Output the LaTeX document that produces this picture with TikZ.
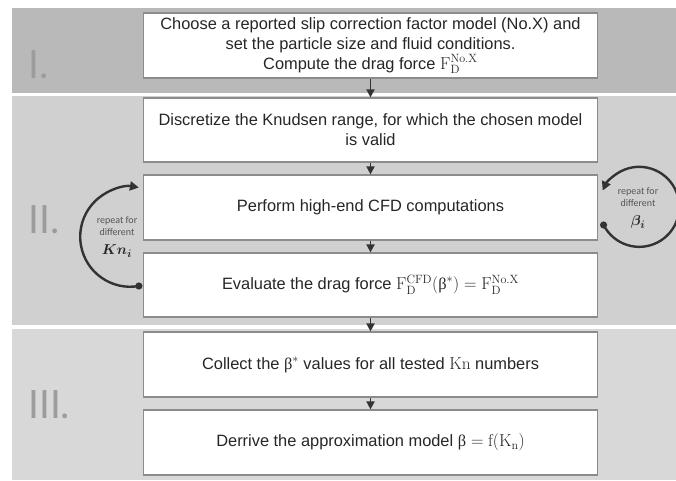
\documentclass[tikz,border=0pt]{standalone}
\usepackage[no-math]{fontspec}
\usepackage{amsmath}
\setmainfont{Liberation Sans}
\newfontfamily\romanfont{Lato}
\newfontfamily\loopfont{Carlito}
\newfontfamily\serifgr{Liberation Serif}
\usetikzlibrary{arrows.meta}
\definecolor{bandA}{HTML}{B9B9B9}
\definecolor{bandB}{HTML}{D0D0D0}
\definecolor{bandC}{HTML}{D8D8D8}
\definecolor{numcol}{HTML}{9C9C9C}
\definecolor{ink}{HTML}{333333}
\definecolor{boxline}{HTML}{8C8C8C}
\definecolor{txt}{HTML}{262626}
\definecolor{looptxt}{HTML}{555555}
\newcommand{\ubeta}{\mbox{\serifgr β}}
\begin{document}
\begin{tikzpicture}[x=1pt,y=1pt,
  stepbox/.style={draw=boxline, line width=1.2pt, fill=white, minimum width=454pt,
    inner sep=0pt, align=center, text=txt, font=\fontsize{16.4}{20}\selectfont},
  flow/.style={draw=ink, line width=1.8pt, -{Triangle[length=8pt,width=8pt]}},
  loopline/.style={draw=ink, line width=2.4pt, -{Triangle[length=9pt,width=9pt]}},
  loopdot/.style={fill=ink},
  looptext/.style={align=center, text=looptxt, inner sep=0pt, font=\loopfont\fontsize{10}{12}\selectfont},
  loopsym/.style={text=txt, inner sep=0pt, font=\fontsize{15}{17}\selectfont},
  numeral/.style={anchor=base west, inner sep=0pt, text=numcol, font=\romanfont\fontsize{39}{40}\selectfont}
]
\useasboundingbox (0,0) rectangle (676,480);
\fill[white] (0,0) rectangle (676,480);
\fill[bandA] (12,387) rectangle (676,472);
\fill[bandB] (12,155) rectangle (676,384);
\fill[bandC] (12,0) rectangle (676,151);

\node[numeral] (r1) at (28,401) {I.};
\node[numeral] (r2) at (28,247) {II.};
\node[numeral] (r3) at (28,62) {III.};

\node[stepbox, minimum height=65pt] (b1) at (370.5,434.5)
  {Choose a reported slip correction factor model (No.X) and\\
   set the particle size and fluid conditions.\\
   Compute the drag force $\mathrm{F}_{\mathrm{D}}^{\mathrm{No.X}}$};
\node[stepbox, minimum height=64pt] (b2) at (370.5,350)
  {Discretize the Knudsen range, for which the chosen model\\ is valid};
\node[stepbox, minimum height=65pt] (b3) at (370.5,272.5)
  {Perform high-end CFD computations};
\node[stepbox, minimum height=64pt] (b4) at (370.5,195)
  {Evaluate the drag force $\mathrm{F}_{\mathrm{D}}^{\mathrm{CFD}}(\ubeta^{*}) = \mathrm{F}_{\mathrm{D}}^{\mathrm{No.X}}$};
\node[stepbox, minimum height=65pt] (b5) at (370.5,115.5)
  {Collect the $\ubeta^{*}$ values for all tested $\mathrm{Kn}$ numbers};
\node[stepbox, minimum height=65pt] (b6) at (370.5,37.5)
  {Derrive the approximation model $\ubeta = \mathrm{f}(\mathrm{K}_{\mathrm{n}})$};

\draw[flow] (b1.south) -- (b2.north);
\draw[flow] (b2.south) -- (b3.north);
\draw[flow] (b3.south) -- (b4.north);
\draw[flow] (b4.south) -- (b5.north);
\draw[flow] (b5.south) -- (b6.north);

% left loop
\coordinate (ls) at ([xshift=-4pt,yshift=-1pt]b4.west);
\draw[loopline] (ls) arc[start angle=-80, end angle=-280, radius=50pt];
\fill[loopdot] (ls) circle (3.6pt);
\node[looptext] (lt) at (117,254) {repeat for\\different};
\node[loopsym] (lk) at (117,229) {$\boldsymbol{Kn_i}$};

% right loop
\coordinate (rs) at ([xshift=5.5pt,yshift=-17.5pt]b3.east);
\draw[loopline] (rs) arc[start angle=207, end angle=516, radius=40pt];
\fill[loopdot] (rs) circle (3.6pt);
\node[looptext] (rt) at (638,282.5) {repeat for\\different};
\node[loopsym] (rk) at (638,258) {$\boldsymbol{\beta_i}$};
\end{tikzpicture}
\end{document}
